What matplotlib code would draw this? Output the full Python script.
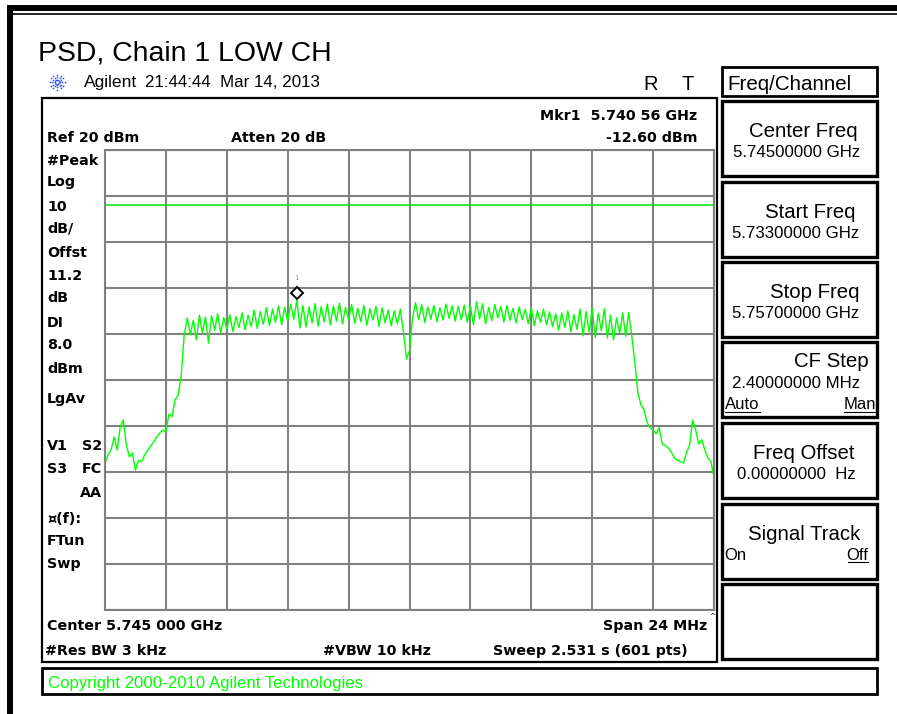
import matplotlib
matplotlib.use("Agg")
import matplotlib.pyplot as plt
import matplotlib.transforms as mtransforms
from matplotlib.patches import Rectangle
import numpy as np

# instrument settings
start_mhz = 5733.0
stop_mhz = 5757.0
ref_dbm = 20
db_per_div = 10
display_line_dbm = 8.0
marker_mhz = 5740.56
marker_dbm = -12.60

# trace (dBm), evenly spaced from start to stop
trace_dbm = [
    -48.0, -46.3, -45.2, -42.4, -45.2, -40.2, -38.7, -44.1, -46.7, -45.9,
    -49.6, -47.4, -47.8, -46.3, -45.4, -44.3, -43.5, -42.4, -41.5, -40.9,
    -41.3, -37.4, -38.0, -34.3, -33.3, -29.3, -20.2, -16.5, -20.2, -17.0,
    -21.3, -15.9, -19.8, -16.3, -22.0, -16.0, -19.2, -15.6, -19.8, -16.4,
    -18.9, -15.8, -19.5, -16.2, -18.6, -15.4, -19.1, -15.9, -18.4, -14.8,
    -18.8, -15.1, -17.9, -14.3, -18.2, -14.6, -17.5, -13.9, -18.0, -14.2,
    -17.2, -13.5, -16.8, -12.6, -18.7, -13.8, -18.5, -14.1, -17.6, -13.4,
    -18.3, -14.0, -17.4, -13.5, -18.0, -13.9, -17.2, -13.3, -17.8, -14.2,
    -16.9, -13.6, -17.7, -14.4, -17.3, -13.8, -18.1, -14.5, -17.0, -14.0,
    -18.4, -14.3, -17.6, -14.8, -18.2, -15.0, -17.8, -14.6, -19.5, -25.4,
    -23.6, -16.5, -13.2, -16.9, -13.6, -17.5, -14.1, -16.8, -13.8, -17.3,
    -14.3, -17.0, -13.5, -16.6, -13.9, -17.2, -14.0, -16.9, -13.7, -17.5,
    -13.9, -18.0, -13.0, -16.7, -13.4, -17.8, -14.2, -17.1, -13.6, -16.5,
    -14.0, -17.4, -13.8, -17.0, -14.4, -17.6, -14.1, -16.9, -14.6, -17.8,
    -14.3, -18.2, -15.0, -17.5, -14.6, -18.0, -15.2, -18.4, -15.6, -19.2,
    -15.4, -18.6, -15.0, -19.5, -15.8, -19.0, -14.6, -20.4, -15.1, -19.6,
    -14.4, -20.8, -15.5, -19.3, -14.5, -20.9, -15.9, -21.3, -16.5, -19.9,
    -15.4, -20.5, -15.3, -20.4, -26.2, -32.8, -35.4, -36.5, -39.1, -40.4,
    -40.9, -41.7, -40.4, -43.9, -44.3, -44.8, -45.7, -47.0, -47.4, -47.8,
    -48.0, -45.7, -44.1, -38.7, -40.9, -43.9, -43.0, -45.2, -47.0, -47.8,
    -51.1,
]

left_labels = ["#Peak", "Log", "10", "dB/", "Offst", "11.2", "dB", "DI", "8.0",
               "dBm", "LgAv", "V1", "S3", "¤(f):", "FTun", "Swp"]
left_baselines = [165, 186, 211, 233, 257, 280, 302, 327, 349,
                  373, 403, 450, 473, 523, 545, 568]

softkey_titles = ["Center Freq", "Start Freq", "Stop Freq", "CF Step",
                  "Freq Offset", "Signal Track", ""]
softkey_title_x = [749, 765, 770, 794, 753, 748, 0]
softkey_title_dy = [36, 36, 36, 25, 36, 36, 0]
softkey_values = ["5.74500000 GHz", "5.73300000 GHz", "5.75700000 GHz",
                  "2.40000000 MHz", "0.00000000  Hz", "", ""]
softkey_value_x = [733, 732, 732, 732, 737, 0, 0]
softkey_value_dy = [56, 56, 56, 46, 56, 0, 0]
softkey_tops = [101, 182, 262, 342, 423, 504, 584]

W, H = 897, 714
BOLD = dict(family="DejaVu Sans", weight="bold", size=10.3, color="black")
REG = "Liberation Sans"
GREEN = "#00ff00"

fig = plt.figure(figsize=(W / 100, H / 100), dpi=100)

# overlay in pixel coordinates for the instrument frame and texts
ov = fig.add_axes([0, 0, 1, 1])
ov.set_xlim(0, W)
ov.set_ylim(H, 0)
ov.axis("off")

# outer screen border
ov.add_patch(Rectangle((7, 5), W - 7, 6, color="black", lw=0))
ov.add_patch(Rectangle((7, 5), 6, H - 5, color="black", lw=0))
ov.plot([13, W], [13.5, 13.5], color="black", lw=1.2)

ov.text(38, 60, "PSD, Chain 1 LOW CH", family=REG, size=20.4, va="baseline")

# Agilent spark logo
for ang in np.arange(0, 360, 30):
    r = np.array([2.5, 5, 7.5])
    ov.scatter(57 + r * np.cos(np.radians(ang)), 82 + r * np.sin(np.radians(ang)),
               s=1.5, color="#3050ff", lw=0)
ov.text(84, 87, "Agilent", family=REG, size=12.6, va="baseline")
ov.text(145, 87, "21:44:44  Mar 14, 2013", family=REG, size=12.2, va="baseline")
ov.text(643, 90, "R", family=REG, size=14.5, va="baseline")
ov.text(682, 90, "T", family=REG, size=14.5, va="baseline")

# display box
ov.add_patch(Rectangle((42, 98), 675, 564, fill=False, ec="black", lw=1.6))
ov.text(697, 120, "Mkr1  5.740 56 GHz", ha="right", va="baseline", **BOLD)
ov.text(697, 142, "-12.60 dBm", ha="right", va="baseline", **BOLD)
ov.text(47, 142, "Ref 20 dBm", va="baseline", **BOLD)
ov.text(231, 142, "Atten 20 dB", va="baseline", **BOLD)
for lab, yb in zip(left_labels, left_baselines):
    ov.text(47, yb, lab, va="baseline", **BOLD)
ov.text(102, 450, "S2", ha="right", va="baseline", **BOLD)
ov.text(102, 473, "FC", ha="right", va="baseline", **BOLD)
ov.text(102, 497, "AA", ha="right", va="baseline", **BOLD)

ov.text(47, 630, "Center 5.745 000 GHz", va="baseline", **BOLD)
ov.text(707, 630, "Span 24 MHz", ha="right", va="baseline", **BOLD)
ov.text(712, 618, "^", ha="center", va="baseline", family="DejaVu Sans", size=5)
ov.text(45, 655, "#Res BW 3 kHz", va="baseline", **BOLD)
ov.text(323, 655, "#VBW 10 kHz", va="baseline", **BOLD)
ov.text(493, 655, "Sweep 2.531 s (601 pts)", va="baseline", **BOLD)

# copyright bar
ov.add_patch(Rectangle((42, 668), 835, 26, fill=False, ec="black", lw=2))
ov.text(48, 688, "Copyright 2000-2010 Agilent Technologies", family=REG,
        size=12.1, color=GREEN, va="baseline")

# softkey panel
ov.add_patch(Rectangle((722, 67), 155, 29, fill=False, ec="black", lw=2))
ov.text(727, 90, "Freq/Channel", family=REG, size=14.8, va="baseline")
for top, title, tx, tdy, val, vx, vdy in zip(softkey_tops, softkey_titles,
                                             softkey_title_x, softkey_title_dy,
                                             softkey_values, softkey_value_x,
                                             softkey_value_dy):
    ov.add_patch(Rectangle((722, top), 155, 75, fill=False, ec="black", lw=2.4))
    if title:
        ov.text(tx, top + tdy, title, family=REG, size=14.7, va="baseline")
    if val:
        ov.text(vx, top + vdy, val, family=REG, size=12.1, va="baseline")
ov.text(725, 409, "Auto", family=REG, size=12, va="baseline")
ov.plot([725, 760], [411.5, 411.5], color="black", lw=0.8)
ov.text(876, 409, "Man", family=REG, size=12, ha="right", va="baseline")
ov.plot([844, 876], [411.5, 411.5], color="black", lw=0.8)
ov.text(724, 560, "On", family=REG, size=12, va="baseline")
ov.text(868, 560, "Off", family=REG, size=12, ha="right", va="baseline")
ov.plot([848, 868], [562, 562], color="black", lw=0.8)

# graticule
ax = fig.add_axes([105 / W, 1 - 610 / H, 609 / W, 460 / H])
freqs = np.linspace(start_mhz, stop_mhz, len(trace_dbm))
ax.set_xlim(start_mhz, stop_mhz)
ax.set_ylim(ref_dbm - 10 * db_per_div, ref_dbm)
ax.set_xticks(np.linspace(start_mhz, stop_mhz, 11))
ax.set_yticks(np.arange(ref_dbm - 10 * db_per_div, ref_dbm + 1, db_per_div))
ax.grid(True, color="#808080", lw=1.5)
ax.tick_params(length=0, labelleft=False, labelbottom=False)
for sp in ax.spines.values():
    sp.set_color("#808080")
    sp.set_linewidth(1.5)

ax.axhline(display_line_dbm, color="#00e600", lw=1.1)
ax.plot(freqs, trace_dbm, color=GREEN, lw=1.0)

# marker diamond sits just above the trace point
mk_tr = mtransforms.offset_copy(ax.transData, fig=fig, x=0, y=7, units="dots")
ax.plot([marker_mhz], [marker_dbm], marker="D", ms=6, mfc="white", mec="black",
        mew=1.4, transform=mk_tr, clip_on=False)
mk_lab = mtransforms.offset_copy(ax.transData, fig=fig, x=0, y=20, units="dots")
ax.text(marker_mhz, marker_dbm, "1", transform=mk_lab, ha="center",
        va="baseline", size=5, color="#909090")

fig.savefig("out.png", dpi=100)
